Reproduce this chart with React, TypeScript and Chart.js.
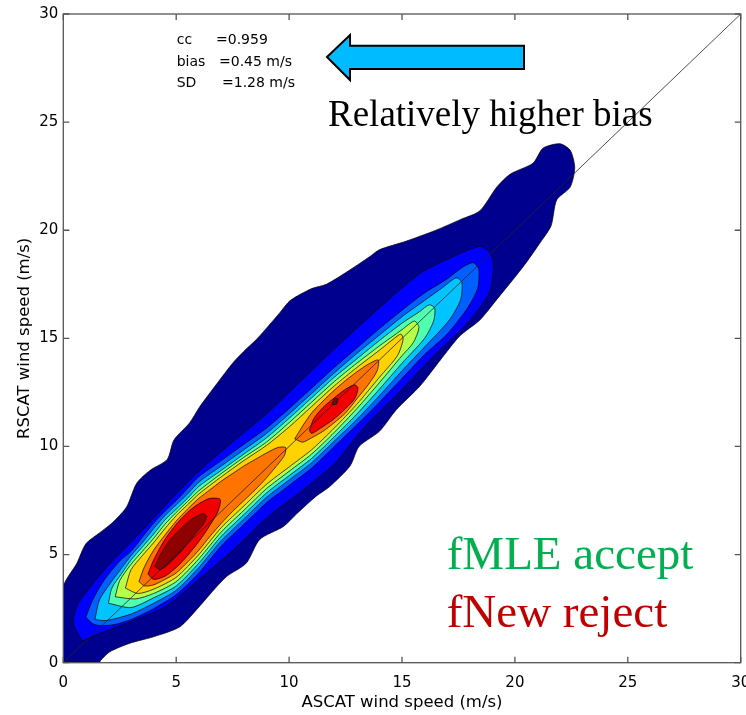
import React, { useEffect, useRef } from "react";
import { Chart, registerables } from "chart.js";

Chart.register(...registerables);

type P = [number, number];

// ---- axis ticks ----
const xTicks = [0, 5, 10, 15, 20, 25, 30];
const yTicks = [0, 5, 10, 15, 20, 25, 30];

// ---- 1:1 reference line ----
const diagonal: P[] = [[0, 0], [30, 30]];

// ---- density contour polygons (ASCAT x, RSCAT y, m/s), outer to inner ----
const navy: P[] = [
  [0, 0], [0, 3.5], [0.6, 4.6], [1.0, 5.5], [1.6, 6.0], [2.2, 6.5], [2.8, 7.2], [3.25, 8.3], [3.85, 8.9],
  [4.6, 9.4], [4.9, 10.3], [5.6, 11.1], [6.05, 11.85], [6.8, 12.9], [7.5, 13.85], [8.0, 14.4], [8.6, 15.0],
  [9.6, 16.2], [10.05, 16.75], [11.0, 17.3], [11.65, 17.5], [12.6, 18.1], [13.6, 18.8], [14.0, 19.1],
  [15.2, 19.5], [16.5, 20.0], [17.6, 20.5], [18.45, 20.9], [19.2, 22.0], [19.8, 22.6], [20.8, 23.1],
  [21.25, 23.8], [22.0, 24.0], [22.45, 23.7], [22.65, 22.9], [22.45, 22.0], [21.85, 21.4], [21.6, 20.2],
  [21.1, 19.4], [20.5, 18.5], [19.9, 17.7], [19.2, 16.8], [18.45, 15.85], [17.55, 15.1], [16.7, 14.0],
  [15.8, 12.8], [14.75, 11.7], [14.0, 10.7], [13.1, 10.0], [12.7, 9.1], [11.8, 8.15], [11.2, 7.7],
  [10.35, 6.9], [9.75, 6.3], [8.7, 5.7], [8.1, 4.6], [7.25, 4.0], [6.65, 3.35], [5.9, 2.45], [5.15, 1.65],
  [4.0, 1.2], [2.95, 0.9], [2.05, 0.5], [1.65, 0.1], [1.6, 0],
];
const blue: P[] = [
  [0.85, 1.0], [0.45, 1.8], [0.6, 2.6], [1.2, 3.5], [2.0, 4.5], [3.4, 6.0], [4.9, 7.7], [6.05, 8.9],
  [7.5, 10.2], [9.0, 11.5], [10.5, 13.0], [12.0, 14.5], [14.0, 16.4], [15.8, 18.0], [17.3, 18.8],
  [18.45, 19.25], [18.9, 18.95], [19.05, 18.3], [18.9, 17.2], [18.5, 16.5], [17.8, 15.6], [17.2, 15.0],
  [16.5, 14.3], [15.0, 12.65], [13.6, 11.2], [13.0, 10.5], [12.0, 9.2], [10.5, 7.9], [9.0, 6.7],
  [7.5, 5.2], [6.05, 3.9], [4.6, 2.65], [3.1, 1.95], [1.6, 1.35],
];
const midBlue: P[] = [
  [1.0, 2.1], [1.3, 2.9], [1.8, 3.8], [2.5, 4.7], [3.0, 5.15], [3.5, 5.8], [4.0, 6.45], [4.5, 7.0],
  [5.0, 7.5], [5.5, 8.05], [6.0, 8.6], [7.0, 9.35], [8.0, 10.1], [9.0, 10.85], [10.0, 11.75], [11.0, 12.7],
  [12.0, 13.65], [13.0, 14.55], [14.0, 15.45], [15.0, 16.3], [16.0, 17.1], [17.0, 17.75], [17.7, 18.3],
  [18.15, 18.5], [18.4, 18.2], [18.35, 17.3], [17.9, 16.4], [17.0, 15.2], [16.0, 14.25], [15.0, 13.15],
  [14.0, 12.05], [13.0, 11.0], [12.0, 10.0], [11.0, 9.0], [10.0, 8.2], [9.0, 7.4], [8.0, 6.4],
  [7.0, 5.4], [6.0, 4.15], [5.0, 3.15], [4.0, 2.5], [3.0, 2.0], [2.2, 1.75], [1.4, 1.75],
];
const lightBlue: P[] = [
  [1.4, 2.0], [1.6, 2.9], [2.1, 3.7], [2.6, 4.4], [3.0, 4.95], [3.5, 5.55], [4.0, 6.2], [4.5, 6.8],
  [5.0, 7.3], [5.5, 7.8], [6.0, 8.35], [7.0, 9.1], [8.0, 9.85], [9.0, 10.6], [10.0, 11.5], [11.0, 12.45],
  [12.0, 13.4], [13.0, 14.3], [14.0, 15.15], [15.0, 16.0], [16.0, 16.75], [16.8, 17.35], [17.4, 17.8],
  [17.65, 17.6], [17.6, 16.8], [17.1, 15.85], [16.0, 14.6], [15.0, 13.5], [14.0, 12.35], [13.0, 11.25],
  [12.0, 10.25], [11.0, 9.25], [10.0, 8.45], [9.0, 7.65], [8.0, 6.65], [7.0, 5.65], [6.0, 4.4],
  [5.0, 3.35], [4.0, 2.75], [3.0, 2.25], [1.9, 1.95],
];
const aqua: P[] = [
  [2.0, 2.75], [2.15, 3.45], [2.6, 4.15], [3.0, 4.75], [3.5, 5.35], [4.0, 5.95], [4.5, 6.6], [5.0, 7.1],
  [5.5, 7.6], [6.0, 8.15], [7.0, 8.9], [8.0, 9.65], [9.0, 10.4], [10.0, 11.3], [11.0, 12.25], [12.0, 13.2],
  [13.0, 14.05], [14.0, 14.9], [15.0, 15.7], [15.8, 16.25], [16.2, 16.55], [16.45, 16.4], [16.4, 15.8],
  [16.0, 15.0], [15.0, 13.85], [14.0, 12.65], [13.0, 11.5], [12.0, 10.45], [11.0, 9.45], [10.0, 8.65],
  [9.0, 7.85], [8.0, 6.85], [7.0, 5.85], [6.0, 4.6], [5.0, 3.55], [4.0, 3.0], [3.0, 2.55],
];
const green: P[] = [
  [2.3, 3.05], [2.5, 3.8], [3.0, 4.55], [3.5, 5.15], [4.0, 5.75], [4.5, 6.4], [5.0, 6.95], [5.5, 7.45],
  [6.0, 7.95], [7.0, 8.75], [8.0, 9.5], [9.0, 10.2], [10.0, 11.1], [11.0, 12.05], [12.0, 13.0],
  [13.0, 13.85], [14.0, 14.65], [15.0, 15.4], [15.55, 15.8], [15.75, 15.5], [15.5, 14.8], [15.0, 14.2],
  [14.0, 12.95], [13.0, 11.75], [12.0, 10.65], [11.0, 9.65], [10.0, 8.85], [9.0, 8.05], [8.0, 7.05],
  [7.0, 6.05], [6.0, 4.8], [5.0, 3.75], [4.0, 3.2], [3.2, 2.95],
];
const yellow: P[] = [
  [2.75, 3.45], [3.0, 4.3], [3.5, 4.95], [4.0, 5.55], [4.5, 6.2], [5.0, 6.8], [5.5, 7.3], [6.0, 7.8],
  [7.0, 8.6], [8.0, 9.35], [9.0, 10.05], [10.0, 10.9], [11.0, 11.85], [12.0, 12.8], [13.0, 13.65],
  [14.0, 14.45], [14.6, 14.95], [14.95, 15.2], [15.05, 14.95], [14.8, 14.2], [14.0, 13.2], [13.0, 11.95],
  [12.0, 10.85], [11.0, 9.85], [10.0, 9.05], [9.0, 8.25], [8.0, 7.25], [7.0, 6.25], [6.0, 5.0],
  [5.0, 3.95], [4.0, 3.4], [3.3, 3.2],
];
const orangeLow: P[] = [
  [3.35, 3.75], [3.6, 4.45], [4.0, 5.2], [4.5, 5.9], [5.0, 6.55], [5.5, 7.1], [6.0, 7.6], [6.5, 8.0],
  [7.0, 8.4], [7.5, 8.75], [8.0, 9.1], [8.5, 9.4], [9.0, 9.7], [9.5, 9.95], [9.85, 9.95], [9.8, 9.6],
  [9.6, 9.3], [9.0, 8.55], [8.5, 8.0], [8.0, 7.5], [7.5, 7.0], [7.0, 6.45], [6.5, 5.85], [6.0, 5.2],
  [5.5, 4.65], [5.0, 4.15], [4.5, 3.85], [4.0, 3.6], [3.6, 3.55],
];
const orangeHigh: P[] = [
  [10.25, 10.35], [10.6, 10.95], [11.0, 11.55], [11.5, 12.1], [12.0, 12.6], [12.5, 13.05], [13.0, 13.45],
  [13.5, 13.8], [13.95, 14.0], [13.9, 13.5], [13.5, 12.85], [13.0, 12.2], [12.5, 11.55], [12.0, 11.1],
  [11.5, 10.7], [11.0, 10.4], [10.6, 10.2],
];
const redLow: P[] = [
  [3.75, 4.1], [4.0, 4.75], [4.5, 5.7], [5.0, 6.4], [5.5, 6.95], [6.0, 7.35], [6.5, 7.6], [6.95, 7.55],
  [6.85, 7.0], [6.4, 6.2], [6.0, 5.6], [5.5, 4.95], [5.0, 4.4], [4.5, 4.0], [4.0, 3.85],
];
const redHigh: P[] = [
  [10.9, 10.75], [11.1, 11.3], [11.5, 11.8], [12.0, 12.25], [12.5, 12.65], [12.9, 12.85], [13.05, 12.7],
  [12.9, 12.2], [12.4, 11.65], [11.9, 11.2], [11.4, 10.85], [11.0, 10.6],
];
const darkRedLow: P[] = [
  [4.05, 4.45], [4.3, 5.0], [4.7, 5.65], [5.2, 6.2], [5.7, 6.65], [6.2, 6.9], [6.35, 6.75], [6.2, 6.4],
  [5.8, 5.9], [5.3, 5.25], [4.8, 4.7], [4.3, 4.3],
];
const darkRedHigh: P[] = [[11.9, 11.95], [12.0, 12.2], [12.15, 12.2], [12.1, 11.95]];

const contourSets: P[][] = [
  navy, blue, midBlue, lightBlue, aqua, green, yellow,
  orangeLow, orangeHigh, redLow, redHigh, darkRedLow, darkRedHigh,
];
const contourColors = [
  "#00008F", "#0000FF", "#0060FF", "#00C4FF", "#50FFB0", "#B8FF48", "#FFD200",
  "#FF7400", "#FF7400", "#F00000", "#F00000", "#8F0000", "#8F0000",
];

// ---- annotation texts ----
const statLabels = ["cc", "bias", "SD"];
const statValues = ["=0.959", "=0.45 m/s", "=1.28 m/s"];
const noteText = "Relatively higher bias";
const acceptText = "fMLE accept";
const rejectText = "fNew reject";
const xTitle = "ASCAT wind speed (m/s)";
const yTitle = "RSCAT wind speed (m/s)";

const closeRing = (pts: P[]) => [...pts, pts[0]].map(([x, y]) => ({ x, y }));

const framePlugin = {
  id: "frameAndNotes",
  afterDatasetsDraw(chart: any) {
    const { ctx, chartArea: a, scales } = chart;
    ctx.save();
    ctx.strokeStyle = "#555";
    ctx.lineWidth = 1.3;
    ctx.strokeRect(a.left, a.top, a.right - a.left, a.bottom - a.top);
    ctx.beginPath();
    for (const v of xTicks) {
      const px = scales.x.getPixelForValue(v);
      ctx.moveTo(px, a.bottom); ctx.lineTo(px, a.bottom - 6);
      ctx.moveTo(px, a.top); ctx.lineTo(px, a.top + 6);
    }
    for (const v of yTicks) {
      const py = scales.y.getPixelForValue(v);
      ctx.moveTo(a.left, py); ctx.lineTo(a.left + 6, py);
      ctx.moveTo(a.right, py); ctx.lineTo(a.right - 6, py);
    }
    ctx.stroke();
    ctx.restore();
  },
  afterDraw(chart: any) {
    const { ctx } = chart;
    ctx.save();
    ctx.fillStyle = "#000";
    ctx.font = "14px 'DejaVu Sans'";
    ctx.textBaseline = "alphabetic";
    const baseY = [44.3, 65.7, 87.3];
    const valX = [216, 219, 222];
    statLabels.forEach((s, i) => {
      ctx.fillText(s, 176.7, baseY[i]);
      ctx.fillText(statValues[i], valX[i], baseY[i]);
    });
    ctx.beginPath();
    ctx.moveTo(327, 57);
    ctx.lineTo(350, 35);
    ctx.lineTo(350, 45.7);
    ctx.lineTo(524, 45.7);
    ctx.lineTo(524, 69);
    ctx.lineTo(350, 69);
    ctx.lineTo(350, 80);
    ctx.closePath();
    ctx.fillStyle = "#00BBFF";
    ctx.fill();
    ctx.strokeStyle = "#000";
    ctx.lineWidth = 2;
    ctx.stroke();
    ctx.fillStyle = "#000";
    ctx.font = "37px 'Liberation Serif'";
    ctx.fillText(noteText, 328, 126);
    ctx.font = "47px 'Liberation Serif'";
    ctx.fillStyle = "#00B050";
    ctx.fillText(acceptText, 446.7, 569.3);
    ctx.fillStyle = "#C00000";
    ctx.fillText(rejectText, 446.7, 626.7);
    ctx.restore();
  },
};

export default function App() {
  const ref = useRef<HTMLCanvasElement | null>(null);
  useEffect(() => {
    if (!ref.current) return;
    const datasets: any[] = contourSets.map((pts, i) => ({
      type: "scatter",
      data: closeRing(pts),
      showLine: true,
      fill: "shape",
      backgroundColor: contourColors[i],
      borderColor: "#000",
      borderWidth: 0.7,
      pointRadius: 0,
      tension: 0.25,
      order: 100 - i,
    }));
    datasets.push({
      type: "scatter",
      data: diagonal.map(([x, y]) => ({ x, y })),
      showLine: true,
      fill: false,
      borderColor: "#222",
      borderWidth: 0.8,
      pointRadius: 0,
      order: 0,
    });
    const tickFont = { family: "'DejaVu Sans'", size: 15 };
    const titleFont = { family: "'DejaVu Sans'", size: 16.5, lineHeight: 1.2 };
    const chart = new Chart(ref.current, {
      type: "scatter",
      data: { datasets },
      plugins: [framePlugin],
      options: {
        responsive: false,
        maintainAspectRatio: false,
        devicePixelRatio: 1,
        animation: false,
        events: [],
        layout: { padding: { top: 14, right: 5.3, bottom: 0, left: 0 } },
        plugins: { legend: { display: false }, tooltip: { enabled: false } },
        scales: {
          x: {
            type: "linear",
            min: 0,
            max: 30,
            afterBuildTicks: (s: any) => { s.ticks = xTicks.map((v) => ({ value: v })); },
            ticks: { color: "#000", font: tickFont, padding: 11.5, maxRotation: 0, autoSkip: false },
            grid: { display: false, drawTicks: false },
            border: { display: false },
            title: { display: true, text: xTitle, color: "#000", font: titleFont, padding: { top: 0, bottom: 2.2 } },
            afterFit: (s: any) => { s.height = 52.3; s.paddingLeft = 0; s.paddingRight = 0; },
          },
          y: {
            type: "linear",
            min: 0,
            max: 30,
            afterBuildTicks: (s: any) => { s.ticks = yTicks.map((v) => ({ value: v })); },
            ticks: { color: "#000", font: tickFont, padding: 5, autoSkip: false },
            grid: { display: false, drawTicks: false },
            border: { display: false },
            title: { display: true, text: yTitle, color: "#000", font: titleFont, padding: { top: 15.2, bottom: 0 } },
            afterFit: (s: any) => { s.width = 63.3; s.paddingTop = 0; s.paddingBottom = 0; },
          },
        },
      } as any,
    });
    return () => chart.destroy();
  }, []);
  return (
    <div style={{ position: "absolute", left: 0, top: 0, width: 746, height: 715, background: "#fff" }}>
      <canvas ref={ref} width={746} height={715} style={{ display: "block" }} />
    </div>
  );
}
